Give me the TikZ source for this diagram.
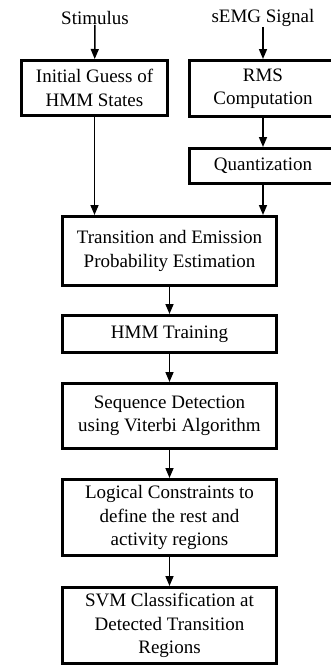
\documentclass[tikz,border=0pt]{standalone}
\usepackage{fontspec}
\setmainfont{Liberation Serif}
\usetikzlibrary{arrows.meta}

\begin{document}
\begin{tikzpicture}[x=1pt,y=-1pt,
    stage/.style={draw, line width=3pt, inner sep=0pt, align=center,
      font=\fontsize{19}{23.5}\selectfont},
    signal/.style={inner sep=0pt, font=\fontsize{19}{23.5}\selectfont},
    flow/.style={line width=1.5pt, -{Triangle[length=10pt,width=8pt]}}]
    \useasboundingbox (0,0) rectangle (331,667);

    % inputs
    \node[signal] (stim) at (95,18) {Stimulus};
    \node[signal] (semg) at (263,18) {sEMG Signal};

    % two branches on top
    \node[stage, minimum width=146, minimum height=55] (init) at (94.5,88)
      {Initial Guess of\\HMM States};
    \node[stage, minimum width=147, minimum height=56] (rms) at (263,88.5)
      {RMS\\Computation};
    \node[stage, minimum width=147, minimum height=35] (quant) at (263,166)
      {Quantization};

    % main chain
    \node[stage, minimum width=214, minimum height=69] (trans) at (169.5,251)
      {Transition and Emission\\Probability Estimation};
    \node[stage, minimum width=214, minimum height=37] (train) at (169.5,334)
      {HMM Training};
    \node[stage, minimum width=214, minimum height=65] (seq) at (169.5,416)
      {Sequence Detection\\using Viterbi Algorithm};
    \node[stage, minimum width=214, minimum height=76] (logic) at (169.5,517.5)
      {Logical Constraints to\\define the rest and\\activity regions};
    \node[stage, minimum width=214, minimum height=76] (svm) at (169.5,625.5)
      {SVM Classification at\\Detected Transition\\Regions};

    \draw[flow] (stim) -- (init);
    \draw[flow] (semg) -- (rms);
    \draw[flow] (rms) -- (quant);
    \draw[flow] (init.south) -- (init.south |- trans.north);
    \draw[flow] (quant.south) -- (quant.south |- trans.north);
    \draw[flow] (trans) -- (train);
    \draw[flow] (train) -- (seq);
    \draw[flow] (seq) -- (logic);
    \draw[flow] (logic) -- (svm);
\end{tikzpicture}
\end{document}
